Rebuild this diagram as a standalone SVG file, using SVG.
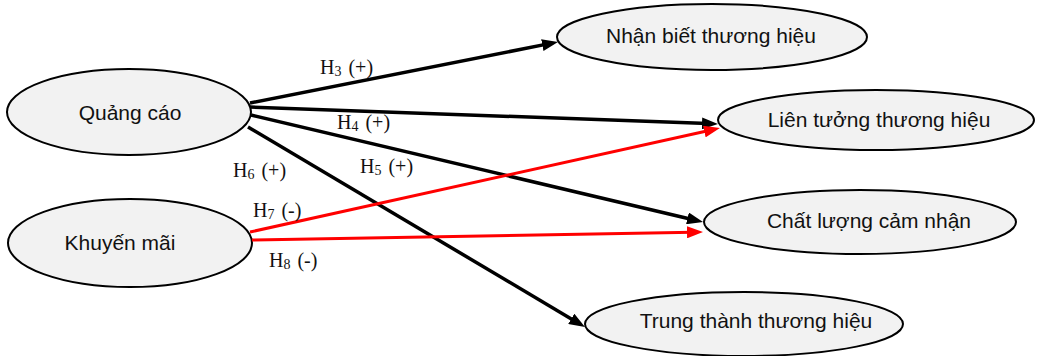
<svg xmlns="http://www.w3.org/2000/svg" width="1037" height="356" viewBox="0 0 1037 356">
<style>
.node ellipse{fill:#f2f2f2;stroke:#000;stroke-width:2}
.node text{font-family:"Liberation Sans",Arial,sans-serif;font-size:21px;fill:#111;text-anchor:middle}
.lbl{font-family:"Liberation Serif","Times New Roman",serif;font-size:20px;fill:#111;word-spacing:2px}
.sub{font-size:14px}
.blk{stroke:#000;stroke-width:3.5;fill:none}
.red{stroke:#ff0000;stroke-width:3;fill:none}
</style>
<defs>
<marker id="ab" markerUnits="userSpaceOnUse" markerWidth="16" markerHeight="12" refX="6" refY="6" orient="auto"><path d="M0,0 L16,6 L0,12 z" fill="#000"/></marker>
<marker id="ar" markerUnits="userSpaceOnUse" markerWidth="16" markerHeight="12" refX="6" refY="6" orient="auto"><path d="M0,0 L16,6 L0,12 z" fill="#ff0000"/></marker>
</defs>
<g id="n-quangcao" class="node"><ellipse cx="129" cy="112" rx="122" ry="43"/><text x="130" y="120">Quảng cáo</text></g>
<g id="n-khuyenmai" class="node"><ellipse cx="130" cy="243" rx="122" ry="44"/><text x="120" y="250">Khuyến mãi</text></g>
<g id="n-nhanbiet" class="node"><ellipse cx="712" cy="37" rx="155" ry="33"/><text x="711" y="43">Nhận biết thương hiệu</text></g>
<g id="n-lientuong" class="node"><ellipse cx="876" cy="120" rx="158" ry="30"/><text x="879" y="127">Liên tưởng thương hiệu</text></g>
<g id="n-chatluong" class="node"><ellipse cx="860" cy="222" rx="156" ry="32"/><text x="869" y="228">Chất lượng cảm nhận</text></g>
<g id="n-trungthanh" class="node"><ellipse cx="744" cy="324" rx="159" ry="32"/><text x="756" y="328">Trung thành thương hiệu</text></g>
<g id="connectors">
<line class="blk" x1="250" y1="103" x2="548.2" y2="43.9" marker-end="url(#ab)"/>
<line class="blk" x1="250" y1="107" x2="708" y2="123.6" marker-end="url(#ab)"/>
<line class="blk" x1="251" y1="115" x2="693.3" y2="219.7" marker-end="url(#ab)"/>
<line class="blk" x1="248" y1="127" x2="576.4" y2="321.9" marker-end="url(#ab)"/>
<line class="red" x1="250" y1="232" x2="710.2" y2="130.2" marker-end="url(#ar)"/>
<line class="red" x1="252" y1="240" x2="693" y2="232.2" marker-end="url(#ar)"/>
</g>
<g id="labels">
<text class="lbl" x="320" y="74">H<tspan class="sub" dy="2">3</tspan><tspan dy="-2"> (+)</tspan></text>
<text class="lbl" x="337" y="129">H<tspan class="sub" dy="2">4</tspan><tspan dy="-2"> (+)</tspan></text>
<text class="lbl" x="360" y="173">H<tspan class="sub" dy="2">5</tspan><tspan dy="-2"> (+)</tspan></text>
<text class="lbl" x="233" y="177">H<tspan class="sub" dy="2">6</tspan><tspan dy="-2"> (+)</tspan></text>
<text class="lbl" x="253" y="217">H<tspan class="sub" dy="2">7</tspan><tspan dy="-2"> (-)</tspan></text>
<text class="lbl" x="269" y="267">H<tspan class="sub" dy="2">8</tspan><tspan dy="-2"> (-)</tspan></text>
</g>
</svg>
